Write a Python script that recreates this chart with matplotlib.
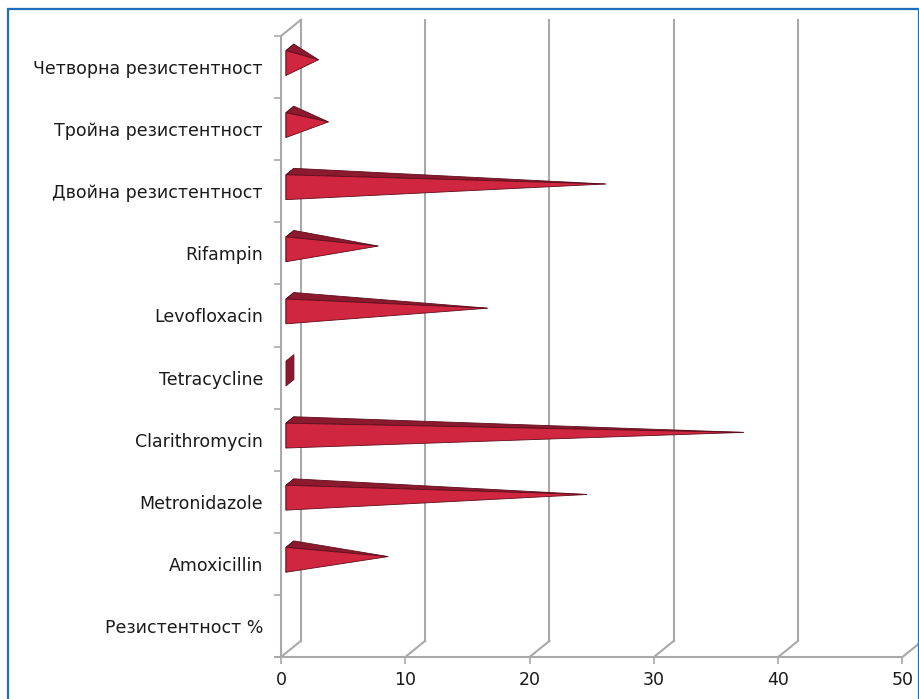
import numpy as np
import matplotlib.pyplot as plt
from matplotlib.patches import Polygon, Rectangle

plt.rcParams['font.family'] = ['DejaVu Sans']

categories = ["Резистентност %", "Amoxicillin", "Metronidazole", "Clarithromycin",
              "Tetracycline", "Levofloxacin", "Rifampin", "Двойна резистентност",
              "Тройна резистентност", "Четворна резистентност"]
values = [None, 7.9, 23.9, 36.5, 0.0, 15.9, 7.1, 25.4, 3.1, 2.3]
xticks = [0, 10, 20, 30, 40, 50]

grid_col = "#a9a9a9"
front_col = "#d0263f"
top_col = "#8c1a2e"
edge_col = "#5e0e1c"

fig = plt.figure(figsize=(9.2, 6.99), dpi=100)
ax = fig.add_axes([281 / 920, 42 / 699, 621.5 / 920, 621 / 699])
ax.set_xlim(0, 50)
ax.set_ylim(-0.5, len(categories) - 0.5)

# depth offset of the back wall in data units
dx, dy = 1.6, 0.26
ytop = len(categories) - 0.5

# back wall grid lines + floor diagonals
for k in xticks:
    ax.plot([k + dx, k + dx], [-0.5 + dy, ytop + dy], color=grid_col, lw=1.5, clip_on=False, zorder=1)
    ax.plot([k, k + dx], [-0.5, -0.5 + dy], color=grid_col, lw=1.5, clip_on=False, zorder=1)
# left wall
ax.plot([0, 0], [-0.5, ytop], color=grid_col, lw=1.5, clip_on=False, zorder=1)
ax.plot([0, dx], [ytop, ytop + dy], color=grid_col, lw=1.5, clip_on=False, zorder=1)
# floor front edge
ax.plot([-0.5, 50], [-0.5, -0.5], color=grid_col, lw=1.5, clip_on=False, zorder=1)

# pyramids
f0, f1, h = 0.25, 0.65, 0.4
fm = (f0 + f1) / 2
def P(x, f, v):
    return (x + f * dx, v + f * dy)

for i, val in enumerate(values):
    if val is None:
        continue
    lo, hi = i - h / 2, i + h / 2
    base = [P(0, f0, lo), P(0, f0, hi), P(0, f1, hi), P(0, f1, lo)]
    ax.add_patch(Polygon(base, closed=True, facecolor=top_col, edgecolor=edge_col, lw=0.6, zorder=3, clip_on=False))
    if val <= 0:
        continue
    tip = P(val, fm, i)
    front = [P(0, f0, lo), P(0, f0, hi), tip]
    top = [P(0, f0, hi), P(0, f1, hi), tip]
    ax.add_patch(Polygon(top, closed=True, facecolor=top_col, edgecolor=edge_col, lw=0.6, zorder=4, clip_on=False))
    ax.add_patch(Polygon(front, closed=True, facecolor=front_col, edgecolor=edge_col, lw=0.6, zorder=5, clip_on=False))

for s in ax.spines.values():
    s.set_visible(False)
ax.set_xticks(xticks)
ax.set_xticklabels([str(t) for t in xticks], fontsize=12.5, color="#1a1a1a")
ax.tick_params(axis='x', length=5, width=1.2, color=grid_col, pad=5)
ax.set_yticks(range(len(categories)))
ax.set_yticklabels(categories, fontsize=12.5, color="#1a1a1a")
ax.set_yticks(np.arange(-0.5, len(categories), 1.0), minor=True)
ax.tick_params(axis='y', which='major', length=0, pad=13)
ax.tick_params(axis='y', which='minor', length=5, width=1.2, color=grid_col)
ax.patch.set_visible(False)

# blue frame around the figure
fig.patches.append(Rectangle((8 / 920, -0.02), 911 / 920, 1.02 - 8.5 / 699,
                             transform=fig.transFigure, fill=False, edgecolor="#1f6fc0", lw=1.6))

fig.savefig("out.png", dpi=100, facecolor="white")
